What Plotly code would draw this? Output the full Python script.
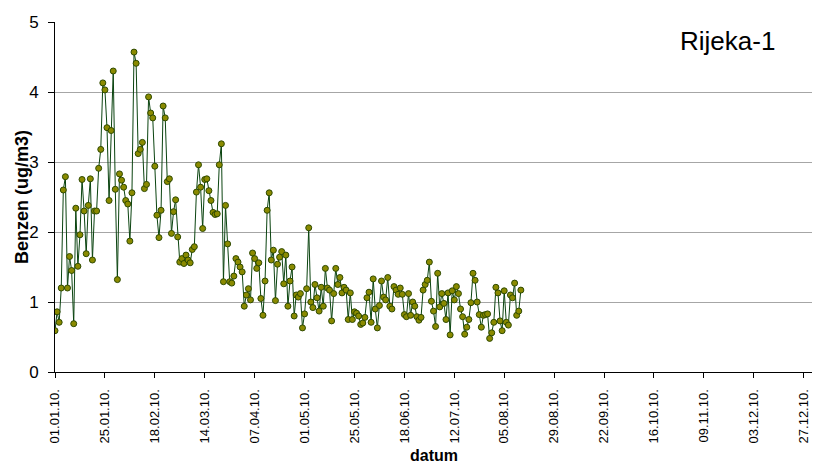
import pandas as pd
import plotly.graph_objects as go

# Daily benzene concentration (ug/m3), station Rijeka-1, from 1 Jan 2010
start_date = "2010-01-01"
benzen_jan_feb = [
    0.59, 0.86, 0.71, 1.2, 2.6, 2.79, 1.2, 1.65, 1.45, 0.69,
    2.34, 1.51, 1.96, 2.75, 2.3, 1.69, 2.38, 2.76, 1.6, 2.3,
    2.3, 2.91, 3.18, 4.13, 4.03, 3.49, 2.45, 3.45, 4.3, 2.61,
    1.32, 2.83, 2.74, 2.64, 2.45, 2.4, 1.87, 2.56, 4.57, 4.41,
]
benzen_feb_mar = [
    3.12, 3.18, 3.28, 2.62, 2.68, 3.93, 3.7, 3.63, 2.94, 2.24,
    1.92, 2.31, 3.8, 3.63, 2.72, 2.76, 1.98, 2.29, 2.46, 1.93,
    1.57, 1.62, 1.55, 1.67, 1.6, 1.56, 1.75, 1.79, 2.57, 2.96,
    2.64, 2.05, 2.75, 2.76, 2.59, 2.45, 2.28,
]
benzen_mar_apr = [
    2.25, 2.26, 2.96, 3.26, 1.29, 2.38, 1.83, 1.29, 1.27, 1.37,
    1.62, 1.57, 1.5, 1.43, 0.94, 1.1, 1.19, 1.03, 1.7, 1.62,
    1.48, 1.56, 1.05, 0.81, 1.3, 2.31, 2.56, 1.6, 1.74, 1.02,
    1.54, 1.64, 1.72, 1.26, 1.67, 0.94, 1.3, 1.5, 0.8,
]
benzen_apr_jun = [
    1.1, 1.07, 1.12, 0.63, 0.83, 1.19, 2.06, 1.0, 0.92, 1.25,
    1.06, 0.87, 1.21, 0.94, 1.48, 1.2, 1.17, 0.73, 1.12, 1.48,
    1.25, 1.35, 1.13, 1.21, 1.17, 0.75, 1.13, 0.75, 0.86, 0.84,
    0.8, 0.68, 0.7, 0.78, 1.06, 1.14, 0.71, 1.33,
]
benzen_jun_jul = [
    0.9, 0.63, 0.95, 1.3, 1.07, 1.03, 1.35, 0.94, 0.9, 1.22,
    1.17, 1.11, 1.2, 1.11, 0.82, 0.79, 1.12, 0.81, 1.0, 0.94,
    0.79, 0.74, 0.78, 1.17, 1.25, 1.31, 1.57, 1.01, 0.87, 0.65,
    1.41, 0.93, 1.12, 0.98, 0.75, 1.13, 0.53,
]
benzen_jul_aug = [
    1.16, 1.03, 1.22, 1.12, 0.9, 0.79, 0.54, 0.64, 0.75, 0.99,
    1.41, 1.31, 1.0, 0.82, 0.64, 0.81, 0.82, 0.83, 0.48, 0.56,
    0.71, 1.21, 1.13, 0.73, 0.59, 1.16, 0.71, 0.67, 1.1, 1.06,
    1.27, 0.81, 0.87, 1.17,
]
benzen = (benzen_jan_feb + benzen_feb_mar + benzen_mar_apr
          + benzen_apr_jun + benzen_jun_jul + benzen_jul_aug)
dates = pd.date_range(start_date, periods=len(benzen), freq="D")

# Date axis ticks (every 24 days)
tick_dates = [
    "2010-01-01", "2010-01-25", "2010-02-18", "2010-03-14", "2010-04-07",
    "2010-05-01", "2010-05-25", "2010-06-18", "2010-07-12", "2010-08-05",
    "2010-08-29", "2010-09-22", "2010-10-16", "2010-11-09", "2010-12-03",
    "2010-12-27",
]
tick_labels = [
    "01.01.10.", "25.01.10.", "18.02.10.", "14.03.10.", "07.04.10.",
    "01.05.10.", "25.05.10.", "18.06.10.", "12.07.10.", "05.08.10.",
    "29.08.10.", "22.09.10.", "16.10.10.", "09.11.10.", "03.12.10.",
    "27.12.10.",
]
y_ticks = [0, 1, 2, 3, 4, 5]

FONT = "Arial, Liberation Sans, sans-serif"

fig = go.Figure(
    go.Scatter(
        x=dates,
        y=benzen,
        mode="lines+markers",
        line=dict(color="#0b4410", width=1),
        marker=dict(size=6, color="#8a8a00", line=dict(color="#2e4a00", width=1)),
        showlegend=False,
    )
)

fig.update_layout(
    width=813,
    height=470,
    margin=dict(l=55, r=1, t=22, b=98),
    paper_bgcolor="white",
    plot_bgcolor="white",
    font=dict(family=FONT, color="black"),
    xaxis=dict(
        range=["2010-01-01", "2010-12-31"],
        tickmode="array",
        tickvals=tick_dates,
        ticktext=tick_labels,
        tickangle=-90,
        tickfont=dict(size=13, color="black"),
        ticks="outside",
        ticklen=5,
        tickcolor="black",
        ticklabelstandoff=6,
        showline=True,
        linecolor="black",
        linewidth=1,
        showgrid=False,
        zeroline=False,
    ),
    yaxis=dict(
        range=[0, 5],
        tickmode="array",
        tickvals=y_ticks,
        tickfont=dict(size=17, color="black"),
        ticks="outside",
        ticklen=6,
        tickcolor="black",
        ticklabelstandoff=6,
        showline=True,
        linecolor="black",
        linewidth=1,
        showgrid=True,
        gridcolor="#a6a6a6",
        gridwidth=1,
        zeroline=False,
    ),
    annotations=[
        dict(
            text="<b>Benzen (ug/m3)</b>",
            xref="paper", yref="paper",
            x=(22 - 55) / 757, y=0.5,
            xanchor="center", yanchor="middle",
            textangle=-90, showarrow=False,
            font=dict(size=18, color="black", family=FONT),
        ),
        dict(
            text="<b>datum</b>",
            xref="paper", yref="paper",
            x=0.5, y=-(455 - 372) / 350,
            xanchor="center", yanchor="middle",
            showarrow=False,
            font=dict(size=16, color="black", family=FONT),
        ),
        dict(
            text="Rijeka-1",
            xref="paper", yref="paper",
            x=(727 - 55) / 757, y=(372 - 41) / 350,
            xanchor="center", yanchor="middle",
            showarrow=False,
            font=dict(size=26, color="black", family=FONT),
        ),
    ],
)

fig.write_html("out.html")
